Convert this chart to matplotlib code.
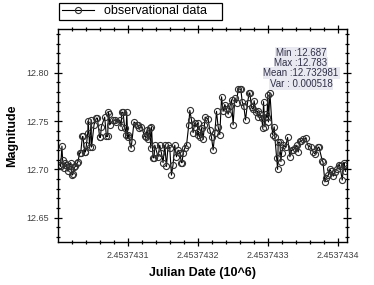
import matplotlib
matplotlib.use("Agg")
import matplotlib.pyplot as plt
from matplotlib.ticker import MultipleLocator, FuncFormatter

plt.rcParams['font.family'] = ['Liberation Sans', 'DejaVu Sans']

# observation time, days after JD 2453743
jd_base = 2453743
t = [0.0029, 0.0043, 0.0061, 0.0071, 0.0090, 0.0107, 0.0124, 0.0147, 0.0164, 0.0186,
     0.0196, 0.0204, 0.0219, 0.0236, 0.0253, 0.0281, 0.0290, 0.0314, 0.0329, 0.0353,
     0.0361, 0.0386, 0.0396, 0.0410, 0.0430, 0.0436, 0.0457, 0.0478, 0.0484, 0.0519,
     0.0553, 0.0567, 0.0600, 0.0610, 0.0624, 0.0671, 0.0696, 0.0714, 0.0724, 0.0733,
     0.0743, 0.0790, 0.0814, 0.0839, 0.0886, 0.0905, 0.0915, 0.0933, 0.0957, 0.0976,
     0.0986, 0.1000, 0.1008, 0.1048, 0.1058, 0.1090, 0.1139, 0.1147, 0.1157, 0.1196,
     0.1243, 0.1257, 0.1276, 0.1290, 0.1314, 0.1329, 0.1339, 0.1361, 0.1376, 0.1386,
     0.1433, 0.1457, 0.1481, 0.1504, 0.1529, 0.1553, 0.1576, 0.1600, 0.1624, 0.1647,
     0.1671, 0.1696, 0.1719, 0.1743, 0.1767, 0.1776, 0.1790, 0.1814, 0.1839, 0.1871,
     0.1886, 0.1910, 0.1933, 0.1957, 0.1967, 0.1996, 0.2000, 0.2008, 0.2029, 0.2053,
     0.2076, 0.2095, 0.2105, 0.2147, 0.2171, 0.2196, 0.2219, 0.2243, 0.2267, 0.2290,
     0.2314, 0.2339, 0.2361, 0.2386, 0.2410, 0.2433, 0.2457, 0.2481, 0.2504, 0.2529,
     0.2553, 0.2576, 0.2600, 0.2614, 0.2633, 0.2657, 0.2681, 0.2710, 0.2733, 0.2743,
     0.2767, 0.2790, 0.2804, 0.2824, 0.2853, 0.2861, 0.2886, 0.2910, 0.2928, 0.2938,
     0.2957, 0.2976, 0.2986, 0.3000, 0.3008, 0.3029, 0.3067, 0.3090, 0.3100, 0.3124,
     0.3139, 0.3147, 0.3171, 0.3186, 0.3196, 0.3219, 0.3253, 0.3281, 0.3314, 0.3339,
     0.3361, 0.3386, 0.3410, 0.3433, 0.3457, 0.3471, 0.3504, 0.3539, 0.3576, 0.3614,
     0.3647, 0.3671, 0.3719, 0.3729, 0.3776, 0.3786, 0.3814, 0.3829, 0.3861, 0.3886,
     0.3900, 0.3933, 0.3957, 0.3981, 0.4019, 0.4029, 0.4061, 0.4086, 0.4090, 0.4107]
mag = [12.705, 12.703, 12.724, 12.710, 12.701, 12.707, 12.705, 12.698, 12.704, 12.707,
       12.700, 12.694, 12.695, 12.702, 12.703, 12.707, 12.708, 12.717, 12.717, 12.734,
       12.734, 12.718, 12.718, 12.725, 12.738, 12.750, 12.723, 12.751, 12.723, 12.746,
       12.753, 12.753, 12.733, 12.733, 12.744, 12.754, 12.734, 12.734, 12.759, 12.757,
       12.746, 12.751, 12.751, 12.749, 12.751, 12.744, 12.759, 12.759, 12.743, 12.736,
       12.759, 12.733, 12.736, 12.722, 12.728, 12.749, 12.746, 12.746, 12.743, 12.744,
       12.734, 12.733, 12.741, 12.731, 12.743, 12.722, 12.744, 12.712, 12.712, 12.725,
       12.713, 12.725, 12.717, 12.707, 12.725, 12.703, 12.725, 12.722, 12.694, 12.705,
       12.725, 12.713, 12.720, 12.717, 12.707, 12.707, 12.717, 12.722, 12.725, 12.746,
       12.761, 12.751, 12.738, 12.748, 12.744, 12.748, 12.736, 12.739, 12.733, 12.743,
       12.731, 12.746, 12.754, 12.752, 12.741, 12.733, 12.720, 12.738, 12.760, 12.744,
       12.736, 12.775, 12.760, 12.767, 12.762, 12.757, 12.765, 12.772, 12.746, 12.774,
       12.769, 12.783, 12.783, 12.783, 12.770, 12.765, 12.751, 12.769, 12.779, 12.779,
       12.764, 12.762, 12.771, 12.759, 12.760, 12.754, 12.757, 12.753, 12.743, 12.770,
       12.744, 12.757, 12.754, 12.777, 12.749, 12.779, 12.736, 12.744, 12.733, 12.712,
       12.700, 12.728, 12.728, 12.708, 12.717, 12.725, 12.723, 12.733, 12.713, 12.720,
       12.720, 12.722, 12.725, 12.718, 12.729, 12.729, 12.731, 12.732, 12.724, 12.723,
       12.718, 12.716, 12.723, 12.723, 12.709, 12.708, 12.687, 12.691, 12.694, 12.700,
       12.698, 12.693, 12.697, 12.700, 12.705, 12.703, 12.689, 12.707, 12.705, 12.698]

stats = ["Min :12.687", "Max :12.783", "Mean :12.732981", "Var : 0.000518"]

fig = plt.figure(figsize=(3.74, 2.85), dpi=100)
ax = fig.add_axes([0.156, 0.151, 0.772, 0.747])

ax.plot(t, mag, color='black', linewidth=0.8, marker='o', markersize=4.4,
        markerfacecolor='none', markeredgecolor='#303030', markeredgewidth=0.8,
        label='observational data')

ax.set_xlim(0.001, 0.413)
ax.set_ylim(12.625, 12.845)
ax.xaxis.set_major_locator(MultipleLocator(0.1))
ax.xaxis.set_minor_locator(MultipleLocator(0.02))
ax.yaxis.set_major_locator(MultipleLocator(0.05))
ax.yaxis.set_minor_locator(MultipleLocator(0.01))
ax.xaxis.set_major_formatter(FuncFormatter(lambda v, p: "%.7f" % ((jd_base + v) / 1e6)))
ax.yaxis.set_major_formatter(FuncFormatter(lambda v, p: "%.2f" % v))

ax.tick_params(which='both', direction='inout', top=True, right=True,
               labelsize=6.5, labelcolor='#404040', color='black', width=0.9)
ax.tick_params(which='major', length=6)
ax.tick_params(which='minor', length=3)
for s in ax.spines.values():
    s.set_linewidth(1.0)

ax.set_xlabel("Julian Date (10^6)", fontsize=9, fontweight='bold', labelpad=5)
ax.set_ylabel("Magnitude", fontsize=9, fontweight='bold', labelpad=6)

leg = ax.legend(loc='lower left', bbox_to_anchor=(0.158, 0.930, 0.436, 0.056),
                bbox_transform=fig.transFigure, mode='expand', fontsize=9,
                handlelength=2.6, handletextpad=0.8, borderpad=0.2,
                borderaxespad=0, fancybox=False, framealpha=1)
leg.get_frame().set_edgecolor('black')
leg.get_frame().set_linewidth(0.9)

ys = [53, 63, 73, 84]
for s, y in zip(stats, ys):
    fig.text(301 / 374, 1 - y / 285, s, fontsize=7, color='#303048',
             ha='center', va='center',
             bbox=dict(facecolor='#e9e9f1', edgecolor='none', pad=0.6))

fig.savefig("out.png", dpi=100)
